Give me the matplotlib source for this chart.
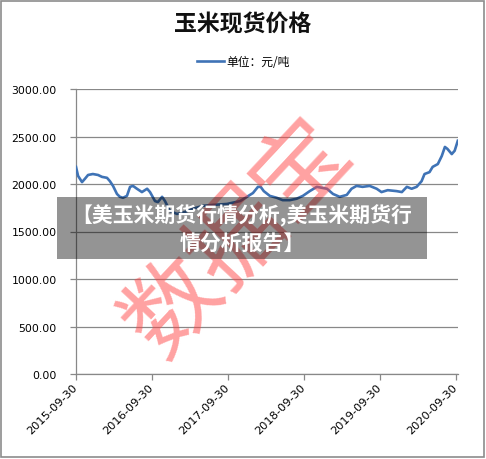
import numpy as np
import pandas as pd
import matplotlib
matplotlib.use("Agg")
import matplotlib.pyplot as plt
import matplotlib.dates as mdates
from matplotlib.patches import Rectangle

plt.rcParams['font.family'] = ['Noto Sans CJK SC', 'DejaVu Sans']

# data (元/吨)
dates = ["2015-09-30", "2015-10-10", "2015-10-29", "2015-11-12", "2015-11-27",
         "2015-12-20", "2016-01-14", "2016-02-02", "2016-02-26", "2016-03-11",
         "2016-03-26", "2016-04-14", "2016-04-28", "2016-05-13", "2016-06-01",
         "2016-06-16", "2016-06-30", "2016-07-19", "2016-08-12", "2016-09-06",
         "2016-09-20", "2016-10-14", "2016-10-28", "2016-11-17", "2016-12-01",
         "2016-12-25", "2017-01-28", "2017-03-07", "2017-04-14", "2017-06-01",
         "2017-07-19", "2017-09-25", "2017-11-27", "2017-12-30", "2018-01-28",
         "2018-02-21", "2018-03-06", "2018-03-21", "2018-04-19", "2018-05-22",
         "2018-06-20", "2018-07-24", "2018-08-26", "2018-09-25", "2018-10-28",
         "2018-12-01", "2019-01-19", "2019-02-17", "2019-03-21", "2019-04-24",
         "2019-05-17", "2019-06-10", "2019-07-09", "2019-08-12", "2019-09-15",
         "2019-10-08", "2019-11-07", "2019-12-20", "2020-01-14", "2020-02-07",
         "2020-03-01", "2020-03-25", "2020-04-18", "2020-05-02", "2020-05-26",
         "2020-06-10", "2020-07-05", "2020-07-24", "2020-08-08", "2020-08-20",
         "2020-09-10", "2020-09-24", "2020-10-09"]
prices = [2180, 2085, 2020, 2055, 2095,
          2105, 2095, 2075, 2065, 2030,
          1980, 1895, 1865, 1855, 1875,
          1970, 1980, 1950, 1915, 1950,
          1915, 1820, 1810, 1865, 1820,
          1715, 1685, 1705, 1740, 1770,
          1780, 1790, 1820, 1865, 1905,
          1970, 1970, 1925, 1875, 1855,
          1830, 1830, 1845, 1875, 1925,
          1970, 1950, 1895, 1865, 1885,
          1950, 1980, 1970, 1980, 1950,
          1915, 1935, 1925, 1915, 1970,
          1950, 1970, 2030, 2105, 2125,
          2180, 2210, 2295, 2390, 2370,
          2315, 2350, 2455]

tick_dates = ["2015-09-30", "2016-09-30", "2017-09-30",
              "2018-09-30", "2019-09-30", "2020-09-30"]
y_ticks = [0, 500, 1000, 1500, 2000, 2500, 3000]

title = "玉米现货价格"
series_name = "单位：元/吨"
banner = "【美玉米期货行情分析,美玉米期货行\n情分析报告】"
watermark = "数据宝"

W, H = 486, 460
fig = plt.figure(figsize=(W / 100, H / 100), dpi=100)
ax = fig.add_axes([76 / W, (H - 375) / H, (458 - 76) / W, 285 / H])

x = pd.to_datetime(dates)
ax.plot(x, prices, color='#3f73b6', lw=1.9, label=series_name, zorder=3)

ax.set_ylim(0, 3000)
ax.set_xlim(pd.Timestamp("2015-09-30"), pd.Timestamp("2020-10-10"))
ax.set_yticks(y_ticks)
ax.set_yticklabels(["%.2f" % v for v in y_ticks], family='DejaVu Sans', fontsize=7.8)
ax.set_xticks(pd.to_datetime(tick_dates))
ax.xaxis.set_major_formatter(mdates.DateFormatter('%Y-%m-%d'))
for lab in ax.get_xticklabels():
    lab.set_family('DejaVu Sans')
    lab.set_fontsize(8.2)
    lab.set_rotation(45)
    lab.set_ha('right')
    lab.set_va('center')
    lab.set_rotation_mode('anchor')

ax.grid(axis='y', color='#888888', lw=0.9)
ax.set_axisbelow(True)
for s in ['top', 'right']:
    ax.spines[s].set_visible(False)
for s in ['left', 'bottom']:
    ax.spines[s].set_color('#888888')
    ax.spines[s].set_linewidth(0.9)
ax.tick_params(axis='both', color='#888888', length=4, width=0.9, pad=3)
ax.tick_params(axis='y', pad=10)
ax.tick_params(axis='x', pad=4)

fig.text(0.5, 1 - 25 / H, title, ha='center', va='center', fontsize=16.5,
         fontweight='bold', color='#111111')
fig.legend(loc='center', bbox_to_anchor=(0.5, 1 - 63 / H), frameon=False,
           fontsize=8.5, handlelength=2.3, handletextpad=0.2)

# outer frame
fig.patches.append(Rectangle((1 / W, 2 / H), (W - 3) / W, (H - 4) / H,
                             transform=fig.transFigure, fill=False,
                             edgecolor='#8c8c8c', lw=1.2))

# watermark
fig.text(238 / W, 1 - 238 / H, watermark, ha='center', va='center', fontsize=68,
         rotation=47, color='#ff4444', alpha=0.5, zorder=5)

# banner overlay
fig.patches.append(Rectangle((57 / W, 1 - 260 / H), (427 - 57) / W, 62 / H,
                             transform=fig.transFigure, facecolor='black',
                             alpha=0.42, edgecolor='none', zorder=6))
fig.text(242 / W, 1 - 229 / H, banner, ha='center', va='center', fontsize=15,
         fontweight='bold', color='white', linespacing=1.3, zorder=7)

fig.savefig("out.png", dpi=100)
